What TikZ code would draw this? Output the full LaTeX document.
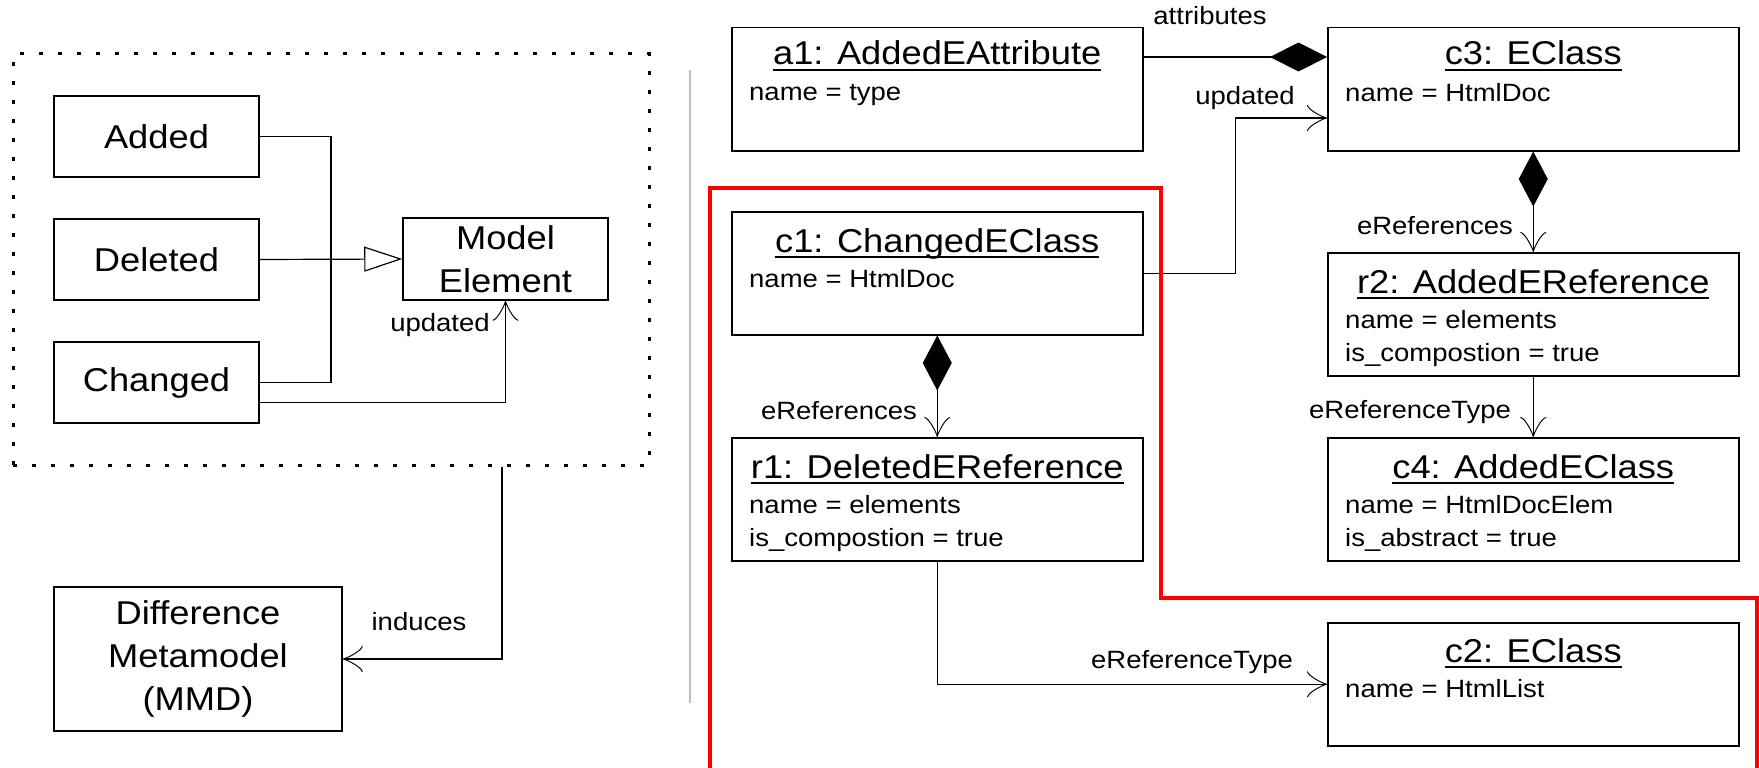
\documentclass[tikz,border=0pt]{standalone}
\usepackage{fontspec}
\setmainfont{Liberation Sans}[FakeStretch=1.1]
\usetikzlibrary{arrows.meta}
\newsavebox\ulbox
\newcommand\myul[1]{\sbox\ulbox{#1}\rlap{\rule[-6pt]{\wd\ulbox}{2pt}}\usebox\ulbox}
\tikzset{
  bigbox/.style={draw, line width=1.5pt, inner sep=0pt, align=center, font=\fontsize{33}{43}\selectfont},
  objbox/.style={draw, line width=1.5pt, minimum width=411pt, minimum height=123pt, inner sep=0pt, anchor=north west},
  ttl/.style={inner sep=0pt, anchor=base, font=\fontsize{33}{40}\selectfont},
  attr/.style={inner sep=0pt, anchor=base west, font=\fontsize{25}{30}\selectfont},
  lbl/.style={inner sep=0pt, font=\fontsize{25}{30}\selectfont},
  conn/.style={line width=1.2pt},
  assoc/.style={conn, -{Classical TikZ Rightarrow[length=20pt,width=26pt]}},
  gen/.style={conn, -{Triangle[open,length=38pt,width=25pt,fill=white]}},
  grpbox/.style={draw, line width=3pt, dash pattern=on 4pt off 15pt, minimum width=636pt, minimum height=411pt, inner sep=0pt},
  sepline/.style={draw=black!25, line width=2pt},
  redline/.style={draw=red, line width=4pt}
}
\begin{document}
\begin{tikzpicture}[x=1pt,y=-1pt]
\useasboundingbox (0,0) rectangle (1759,768);
% ---------- left part ----------
\node[grpbox] (grp) at (331,259.5) {};
\node[bigbox, minimum width=205pt, minimum height=81pt] (added) at (156.5,136.5) {Added};
\node[bigbox, minimum width=205pt, minimum height=81pt] (deleted) at (156.5,259.5) {Deleted};
\node[bigbox, minimum width=205pt, minimum height=81pt] (changed) at (156.5,382.5) {Changed};
\node[bigbox, minimum width=205pt, minimum height=82pt] (me) at (505.5,259) {Model\\Element};
\node[bigbox, minimum width=288pt, minimum height=144pt] (mmd) at (198,659) {Difference\\Metamodel\\(MMD)};
\coordinate (j) at (331,259);
\draw[conn] (added.east) -| (j);
\draw[conn] (changed.east) -| (j);
\draw[gen] (deleted.east) -- (me.west);
\draw[assoc] ([yshift=-61pt]changed.north east) -| (me.south);
\node[lbl] (lupd) at (440,325) {updated};
\draw[assoc] ([xshift=171pt]grp.south) |- (mmd.east);
\node[lbl] (lind) at (419,622) {induces};
% separator
\draw[sepline] (690,70) -- (690,703);
% ---------- right part ----------
\node[objbox] (a1) at (731,27) {};
\node[ttl] (a1t) at ([yshift=-38pt]a1.north) {\myul{a1: AddedEAttribute}};
\node[attr] (a1a) at ([xshift=18pt,yshift=-73pt]a1.north west) {name = type};

\node[objbox] (c3) at (1327,27) {};
\node[ttl] (c3t) at ([yshift=-38pt]c3.north) {\myul{c3: EClass}};
\node[attr] (c3a) at ([xshift=18pt,yshift=-75pt]c3.north west) {name = HtmlDoc};

\node[objbox] (c1) at (731,211) {};
\node[ttl] (c1t) at ([yshift=-41pt]c1.north) {\myul{c1: ChangedEClass}};
\node[attr] (c1a) at ([xshift=18pt,yshift=-76pt]c1.north west) {name = HtmlDoc};

\node[objbox] (r2) at (1327,252) {};
\node[ttl] (r2t) at ([yshift=-41pt]r2.north) {\myul{r2: AddedEReference}};
\node[attr] (r2a) at ([xshift=18pt,yshift=-76pt]r2.north west) {name = elements};
\node[attr] (r2b) at ([xshift=18pt,yshift=-109pt]r2.north west) {is\_compostion = true};

\node[objbox] (r1) at (731,437) {};
\node[ttl] (r1t) at ([yshift=-41pt]r1.north) {\myul{r1: DeletedEReference}};
\node[attr] (r1a) at ([xshift=18pt,yshift=-76pt]r1.north west) {name = elements};
\node[attr] (r1b) at ([xshift=18pt,yshift=-109pt]r1.north west) {is\_compostion = true};

\node[objbox] (c4) at (1327,437) {};
\node[ttl] (c4t) at ([yshift=-41pt]c4.north) {\myul{c4: AddedEClass}};
\node[attr] (c4a) at ([xshift=18pt,yshift=-76pt]c4.north west) {name = HtmlDocElem};
\node[attr] (c4b) at ([xshift=18pt,yshift=-109pt]c4.north west) {is\_abstract = true};

\node[objbox] (c2) at (1327,622) {};
\node[ttl] (c2t) at ([yshift=-40pt]c2.north) {\myul{c2: EClass}};
\node[attr] (c2a) at ([xshift=18pt,yshift=-75pt]c2.north west) {name = HtmlList};

% connectors
\draw[conn, -{Diamond[length=57pt,width=29pt]}] ([yshift=-30pt]a1.north east) -- ([yshift=-30pt]c3.north west);
\node[lbl] (latt) at (1210,16) {attributes};
\draw[assoc] (c1.east) -- ++(92,0) |- ([yshift=-91pt]c3.north west);
\node[lbl] (lupd2) at (1245,98) {updated};
\draw[conn, {Diamond[length=55pt,width=29pt]}-{Classical TikZ Rightarrow[length=20pt,width=26pt]}] (c1.south) -- (r1.north);
\node[lbl] (lref1) at (839,411) {eReferences};
\draw[conn, {Diamond[length=55pt,width=29pt]}-{Classical TikZ Rightarrow[length=20pt,width=26pt]}] (c3.south) -- (r2.north);
\node[lbl] (lref2) at (1435,226) {eReferences};
\draw[assoc] (r2.south) -- (c4.north);
\node[lbl] (ltyp1) at (1410,412) {eReferenceType};
\draw[assoc] (r1.south) |- (c2.west);
\node[lbl] (ltyp2) at (1192,662) {eReferenceType};
% red outline
\draw[redline] (710,770) -- (710,188) -- (1161,188) -- (1161,598) -- (1757,598) -- (1757,770);
\end{tikzpicture}
\end{document}
